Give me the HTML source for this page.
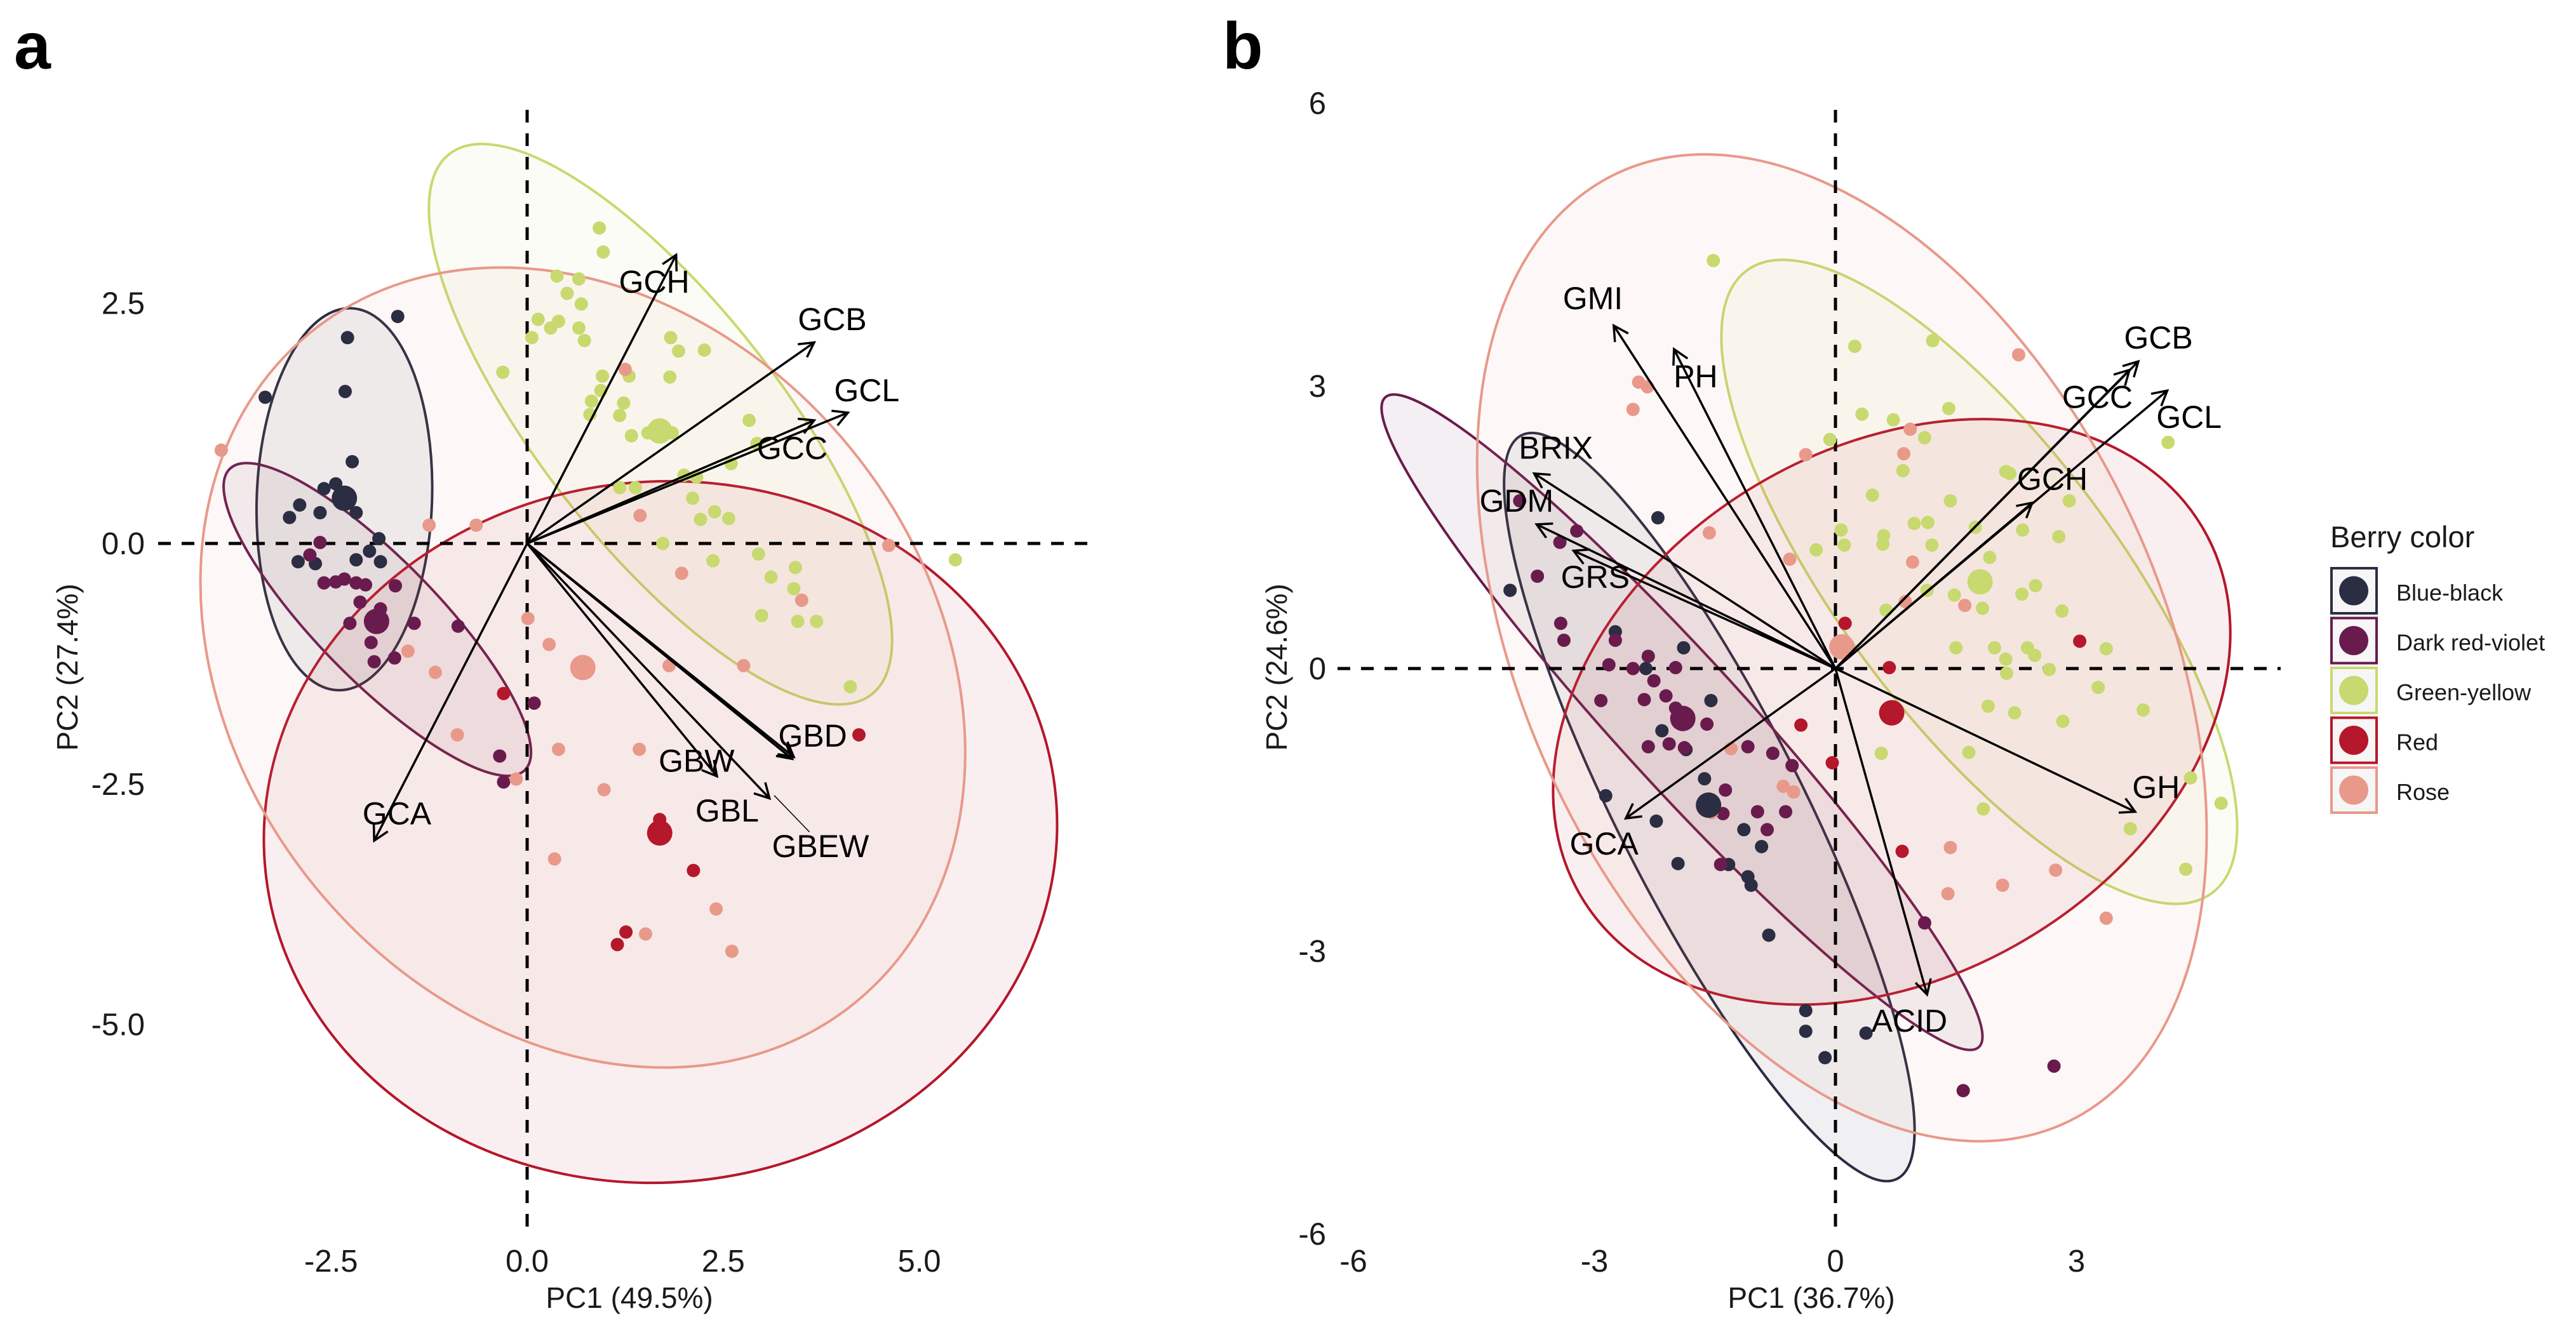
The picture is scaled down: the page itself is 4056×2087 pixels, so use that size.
<!DOCTYPE html>
<html><head><meta charset="utf-8"><style>
html,body{margin:0;padding:0;background:#fff;}
svg{display:block;font-family:"Liberation Sans",Arial,sans-serif;}
</style></head><body>
<svg id="chart" width="4056" height="2087" viewBox="0 0 4056 2087" xmlns="http://www.w3.org/2000/svg">
<rect width="4056" height="2087" fill="#fff"/>
<text x="22" y="108" font-size="104" font-weight="bold">a</text>
<text x="1925" y="108" font-size="104" font-weight="bold">b</text>
<g id="pa"></g>
<g id="pb"></g>
<g id="legend"></g>
</svg>
<script>
const groups = ["Blue-black","Dark red-violet","Green-yellow","Red","Rose"];
const groupColors = ["#2b2d42","#6a1b4d","#c8d96f","#b5172b","#e8998a"];

// ---------- Panel a data (PC units) ----------
const aBlueX=[-1.65,-2.29,-2.32,-3.34,-2.23,-2.59,-2.44,-2.90,-3.03,-2.64,-2.18,-1.89,-2.01,-2.92,-2.70,-2.18,-1.87];
const aBlueY=[2.36,2.14,1.58,1.52,0.85,0.57,0.62,0.40,0.27,0.32,0.32,0.05,-0.08,-0.19,-0.21,-0.17,-0.19];
const aVioletX=[-2.64,-2.77,-2.59,-2.44,-2.33,-2.18,-2.06,-1.87,-2.26,-2.13,-1.99,-1.95,-1.69,-1.44,-0.88,-1.68,0.09,-0.35,-0.30];
const aVioletY=[0.01,-0.12,-0.41,-0.40,-0.37,-0.41,-0.43,-0.68,-0.83,-0.61,-1.03,-1.23,-1.19,-0.83,-0.86,-0.44,-1.66,-2.21,-2.48];
const aGreenX=[0.92,0.97,0.38,0.66,0.51,0.69,0.14,0.40,0.06,0.30,0.66,0.73,1.83,1.93,2.26,-0.31,0.96,1.30,1.82,0.94,1.23,0.82,0.80,1.18,2.83,1.33,1.54,1.85,2.93,2.60,2.00,2.16,1.18,1.38,2.11,2.39,2.57,2.21,1.73,2.37,2.95,3.11,3.42,3.40,3.50,2.99,3.45,3.69,4.12,5.46];
const aGreenY=[3.28,3.03,2.78,2.75,2.60,2.49,2.33,2.31,2.14,2.24,2.24,2.11,2.14,2.00,2.01,1.78,1.74,1.74,1.73,1.59,1.46,1.48,1.34,1.33,1.28,1.12,1.15,1.15,1.04,0.83,0.71,0.69,0.58,0.58,0.47,0.33,0.26,0.25,0,-0.18,-0.11,-0.35,-0.25,-0.47,-0.59,-0.75,-0.81,-0.81,-1.49,-0.17];
const aRedX=[4.23,-0.30,1.69,2.12,1.26,1.15];
const aRedY=[-1.99,-1.56,-2.87,-3.40,-4.04,-4.17];
const aRoseX=[-3.90,-1.25,-0.65,1.25,1.44,1.97,3.50,4.61,0.01,0.28,1.81,2.76,-0.89,-1.17,-1.52,0.40,1.43,0.98,-0.14,0.35,2.41,1.51,2.61];
const aRoseY=[0.97,0.19,0.19,1.81,0.29,-0.31,-0.59,-0.02,-0.78,-1.05,-1.27,-1.27,-1.99,-1.34,-1.12,-2.14,-2.14,-2.56,-2.45,-3.28,-3.80,-4.06,-4.24];
const aMeanX=[-2.33,-1.92,1.69,1.69,0.71];
const aMeanY=[0.47,-0.81,1.17,-3.01,-1.29];
const aEllCX=[-2.33,-1.91,1.70,1.70,0.71];
const aEllCY=[0.46,-0.79,1.24,-3.00,-1.29];
const aVarNames=["GCH","GCB","GCL","GCC","GBD","GBEW","GBL","GBW","GCA"];
const aVarX=[1.90,3.66,4.09,3.66,3.38,3.40,3.09,2.42,-1.95];
const aVarY=[3.00,2.09,1.36,1.28,-2.24,-2.22,-2.65,-2.42,-3.09];
const aLabX=[1.62,3.89,4.33,3.38,3.64,3.74,2.55,2.16,-1.66];
const aLabY=[2.72,2.33,1.59,0.99,-2.00,-3.15,-2.78,-2.26,-2.81];
const aXTicks=[-2.5,0,2.5,5];
const aXTickLabels=["-2.5","0.0","2.5","5.0"];
const aYTicks=[2.5,0,-2.5,-5];
const aYTickLabels=["2.5","0.0","-2.5","-5.0"];

// ---------- Panel b data ----------
const bBlueX=[-2.21,-4.05,-2.74,-1.89,-2.36,-1.55,-2.16,-1.86,-1.63,-2.86,-2.23,-1.96,-1.33,-1.14,-1.09,-1.05,-0.92,-0.83,-0.37,-0.37,-0.13,0.38];
const bBlueY=[1.60,0.83,0.39,0.22,0,-0.34,-0.66,-0.86,-1.17,-1.35,-1.62,-2.07,-2.08,-1.71,-2.21,-2.30,-1.89,-2.83,-3.63,-3.85,-4.13,-3.87];
const bVioletX=[-3.93,-3.22,-3.43,-3.71,-3.42,-3.38,-2.74,-2.82,-2.52,-2.33,-1.99,-2.26,-2.38,-2.11,-2.92,-1.99,-1.60,-2.07,-2.33,-1.88,-1.09,-0.78,-0.54,-1.37,-1.40,-0.97,-0.62,-0.85,-1.43,1.11,1.59,2.72];
const bVioletY=[1.78,1.46,1.34,0.98,0.48,0.30,0.30,0.04,0,0.13,0.01,-0.13,-0.33,-0.29,-0.34,-0.42,-0.59,-0.80,-0.83,-0.84,-0.83,-0.90,-1.03,-1.29,-1.54,-1.52,-1.52,-1.71,-2.08,-2.70,-4.48,-4.22];
const bGreenX=[-1.52,0.24,1.21,0.33,0.72,1.11,1.41,-0.07,2.12,2.17,0.84,0.46,1.43,2.91,0.07,0.98,1.15,0.60,0.11,-0.24,1.20,0.59,1.74,2.33,2.78,1.92,2.49,2.32,1.48,1.83,1.14,2.82,0.63,1.50,1.98,2.39,2.48,2.12,2.13,2.66,3.37,3.27,1.90,2.23,2.83,3.83,1.66,0.57,1.84,3.67,4.42,4.80,4.36,4.14];
const bGreenY=[4.33,3.42,3.48,2.70,2.64,2.45,2.76,2.43,2.09,2.07,2.10,1.84,1.78,1.78,1.47,1.54,1.55,1.41,1.31,1.26,1.31,1.32,1.50,1.47,1.40,1.18,0.88,0.79,0.78,0.64,0.83,0.61,0.62,0.22,0.22,0.22,0.14,0.10,-0.05,-0.01,0.21,-0.20,-0.40,-0.47,-0.56,-0.44,-0.89,-0.90,-1.49,-1.70,-1.16,-1.43,-2.13,2.40];
const bRedX=[0.12,0.67,-0.43,-0.04,3.04,0.83];
const bRedY=[0.48,0.01,-0.60,-1.00,0.29,-1.94];
const bRoseX=[2.28,-2.45,-2.34,-2.52,-0.37,0.85,0.93,-1.57,-0.57,0.96,1.61,0.87,-1.30,-0.65,-0.52,1.43,1.40,2.08,2.74,3.37,-1.54];
const bRoseY=[3.33,3.04,2.99,2.75,2.27,2.28,2.54,1.44,1.16,1.13,0.67,0.71,-0.85,-1.25,-1.31,-1.90,-2.39,-2.30,-2.14,-2.65,-1.53];
const bMeanX=[-1.58,-1.90,1.80,0.70,0.08];
const bMeanY=[-1.45,-0.53,0.92,-0.47,0.23];
const bEllCX=[-1.57,-1.91,1.79,0.70,0.08];
const bEllCY=[-1.47,-0.57,0.92,-0.46,0.22];
const bVarNames=["GMI","PH","BRIX","GDM","GRS","GCA","ACID","GH","GCH","GCC","GCB","GCL"];
const bVarX=[-2.76,-2.01,-3.75,-3.72,-3.26,-2.61,1.14,3.73,2.45,3.66,3.77,4.13];
const bVarY=[3.64,3.39,2.07,1.53,1.25,-1.59,-3.46,-1.52,1.76,3.17,3.26,2.95];
const bLabX=[-3.02,-1.74,-3.48,-3.97,-2.99,-2.88,0.92,3.99,2.70,3.26,4.02,4.40];
const bLabY=[3.93,3.10,2.34,1.78,0.97,-1.86,-3.74,-1.26,2.01,2.88,3.51,2.67];
const bXTicks=[-6,-3,0,3];
const bXTickLabels=["-6","-3","0","3"];
const bYTicks=[6,3,0,-3,-6];
const bYTickLabels=["6","3","0","-3","-6"];

const NS="http://www.w3.org/2000/svg";
function mk(parent,tag,attrs){const e=document.createElementNS(NS,tag);for(const k in attrs)e.setAttribute(k,attrs[k]);parent.appendChild(e);return e;}

function drawPanel(g,cfg){
  const sx=v=>cfg.x0+cfg.kx*v, sy=v=>cfg.y0-cfg.ky*v;
  cfg.ell.forEach((el,i)=>{
    const cx=sx(cfg.ecx[i]), cy=sy(cfg.ecy[i]);
    const e=mk(g,'ellipse',{cx:cx,cy:cy,rx:el[0],ry:el[1],transform:`rotate(${el[2]} ${cx} ${cy})`,fill:groupColors[i],'fill-opacity':0.07,stroke:groupColors[i],'stroke-width':4});
    
    
  });
  const dv=mk(g,'line',{x1:sx(0),x2:sx(0),y1:cfg.vy1,y2:cfg.vy2,stroke:'#000','stroke-width':5,'stroke-dasharray':'20 17'});
  
  
  const dh=mk(g,'line',{x1:cfg.hx1,x2:cfg.hx2,y1:sy(0),y2:sy(0),stroke:'#000','stroke-width':5,'stroke-dasharray':'20 17'});
  
  
  cfg.pts.forEach((p,i)=>{
    p[0].forEach((x,j)=>{
      const c=mk(g,'circle',{cx:sx(x),cy:sy(p[1][j]),r:10.5,fill:groupColors[i]});
      
      
    });
  });
  cfg.mx.forEach((x,i)=>{
    const c=mk(g,'circle',{cx:sx(x),cy:sy(cfg.my[i]),r:20,fill:groupColors[i]});
    
    
  });
  cfg.vn.forEach((n,i)=>{
    const x1=sx(0),y1=sy(0),x2=sx(cfg.vx[i]),y2=sy(cfg.vy[i]);
    const ang=Math.atan2(y2-y1,x2-x1),L=26,w=0.5;
    const ag=mk(g,'g',{});
    
    
    mk(ag,'line',{x1:x1,y1:y1,x2:x2,y2:y2,stroke:'#000','stroke-width':3.5});
    mk(ag,'polyline',{points:`${x2-L*Math.cos(ang-w)},${y2-L*Math.sin(ang-w)} ${x2},${y2} ${x2-L*Math.cos(ang+w)},${y2-L*Math.sin(ang+w)}`,fill:'none',stroke:'#000','stroke-width':3.5});
    const t=mk(g,'text',{x:sx(cfg.lx[i]),y:sy(cfg.ly[i])+17,'font-size':50,'text-anchor':'middle',fill:'#000'});
    t.textContent=n;
    
    
  });
  if(cfg.leader){
    const ld=mk(g,'line',{x1:sx(cfg.leader[0]),y1:sy(cfg.leader[1]),x2:sx(cfg.leader[2]),y2:sy(cfg.leader[3]),stroke:'#000','stroke-width':1.5});
    
    
  }
  cfg.xt.forEach((v,i)=>{
    const t=mk(g,'text',{x:sx(v),y:2003,'font-size':49,'text-anchor':'middle',fill:'#1a1a1a'});
    t.textContent=cfg.xtl[i];
    
    
  });
  cfg.yt.forEach((v,i)=>{
    const t=mk(g,'text',{x:cfg.ytx,y:sy(v)+17,'font-size':49,'text-anchor':'end',fill:'#1a1a1a'});
    t.textContent=cfg.ytl[i];
    
    
  });
  const xt=mk(g,'text',{x:cfg.xtitleX,y:2060,'font-size':46,'text-anchor':'middle',fill:'#1a1a1a'});
  xt.textContent=cfg.xtitle;
  
  
  const yt=mk(g,'text',{x:0,y:0,'font-size':46,'text-anchor':'middle',fill:'#1a1a1a',transform:`translate(${cfg.ytitleX},${cfg.ytitleY}) rotate(-90)`});
  yt.textContent=cfg.ytitle;
  
  
}

drawPanel(document.getElementById('pa'),{
  x0:830,kx:123.5,y0:856,ky:151.5,
  ell:[[138,301,2],[332,95,45.6],[540,190,52],[625,552,-5],[680,545,51]],
  ecx:aEllCX,ecy:aEllCY,
  vy1:173,vy2:1945,hx1:249,hx2:1728,
  pts:[[aBlueX,aBlueY],[aVioletX,aVioletY],[aGreenX,aGreenY],[aRedX,aRedY],[aRoseX,aRoseY]],
  mx:aMeanX,my:aMeanY,
  vn:aVarNames,vx:aVarX,vy:aVarY,lx:aLabX,ly:aLabY,
  leader:[3.15,-2.62,3.60,-3.00],
  xt:aXTicks,xtl:aXTickLabels,yt:aYTicks,ytl:aYTickLabels,ytx:228,
  xtitle:"PC1 (49.5%)",xtitleX:991,ytitle:"PC2 (27.4%)",ytitleX:122,ytitleY:1051
});
drawPanel(document.getElementById('pb'),{
  x0:2890,kx:126.5,y0:1053,ky:148.4,
  ell:[[656,146,63.2],[693,100,47.6],[612,218,53.2],[569,416,-30.8],[827,500,64.6]],
  ecx:bEllCX,ecy:bEllCY,
  vy1:173,vy2:1945,hx1:2106,hx2:3591,
  pts:[[bBlueX,bBlueY],[bVioletX,bVioletY],[bGreenX,bGreenY],[bRedX,bRedY],[bRoseX,bRoseY]],
  mx:bMeanX,my:bMeanY,
  vn:bVarNames,vx:bVarX,vy:bVarY,lx:bLabX,ly:bLabY,
  xt:bXTicks,xtl:bXTickLabels,yt:bYTicks,ytl:bYTickLabels,ytx:2088,
  xtitle:"PC1 (36.7%)",xtitleX:2852,ytitle:"PC2 (24.6%)",ytitleX:2026,ytitleY:1051
});

const lg=document.getElementById('legend');
const lt=mk(lg,'text',{x:3669,y:862,'font-size':47,fill:'#1a1a1a'});
lt.textContent="Berry color";


groups.forEach((gname,i)=>{
  const y=893+i*78.5;
  const e=mk(lg,'g',{});
  
  
  mk(e,'rect',{x:3671,y:y+2,width:71,height:71,fill:'#f7f6f7',stroke:groupColors[i],'stroke-width':4});
  mk(e,'circle',{cx:3706,cy:y+37.5,r:23,fill:groupColors[i]});
  const t=mk(e,'text',{x:3773,y:y+53,'font-size':36,fill:'#1a1a1a'});
  t.textContent=gname;
});
</script>
</body></html>
